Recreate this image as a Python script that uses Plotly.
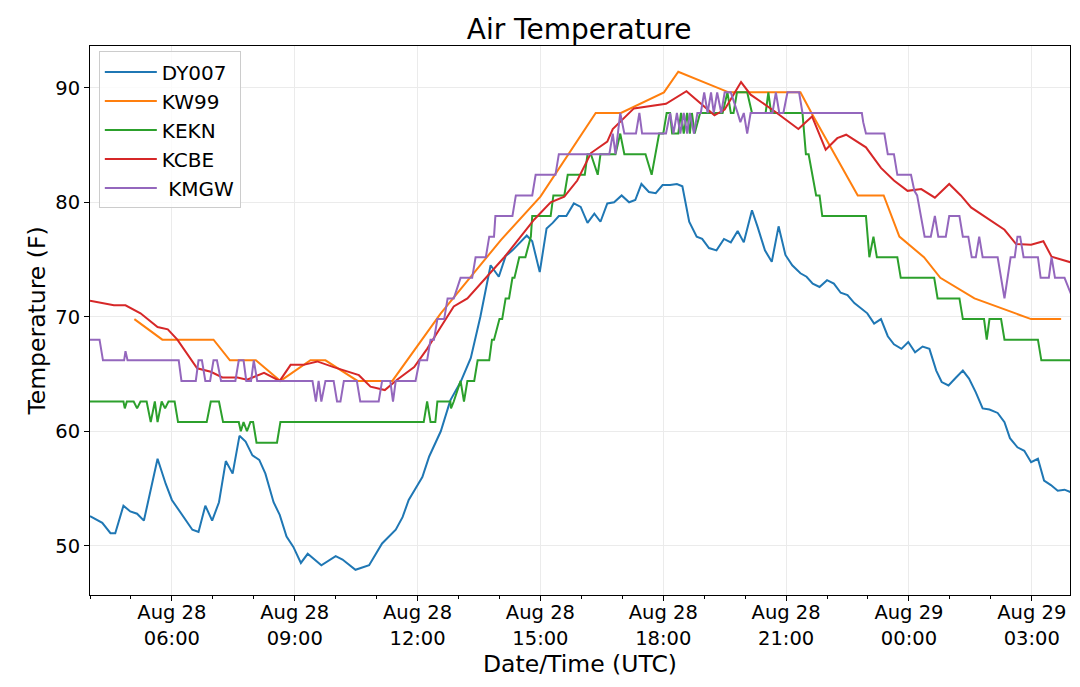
import pandas as pd
import plotly.graph_objects as go

# start of the plotted day; all times below are minutes after this
t0 = pd.Timestamp("2017-08-28 04:00")

# DY007
dy007_min = [0, 18, 30, 37, 49, 59, 69, 79, 99, 111,
             120, 150, 159, 169, 179, 189, 199, 209, 219, 228,
             238, 248, 257, 269, 278, 288, 298, 309, 319, 339,
             360, 370, 389, 409, 428, 438, 448, 458, 467, 477,
             487, 497, 514, 528, 543, 558, 565, 572, 587, 599,
             609, 619, 640, 648, 659, 669, 678, 687, 698, 709,
             719, 729, 739, 748, 758, 768, 779, 790, 799, 808,
             819, 829, 839, 850, 860, 868, 878, 889, 897, 907,
             918, 929, 939, 949, 958, 970, 978, 989, 999, 1009,
             1019, 1029, 1041, 1050, 1059, 1069, 1080, 1090, 1100, 1110,
             1120, 1130, 1139, 1149, 1159, 1169, 1178, 1189, 1199, 1209,
             1220, 1230, 1240, 1248, 1258, 1269, 1279, 1288, 1298, 1308,
             1318, 1330, 1340, 1348, 1359, 1369, 1379, 1389, 1398, 1408,
             1418, 1428, 1440]
dy007_f = [52.6, 52.0, 51.1, 51.1, 53.5, 53.0, 52.8, 52.2, 57.6, 55.4,
           54.0, 51.4, 51.2, 53.5, 52.2, 53.8, 57.4, 56.3, 59.6, 59.1,
           57.9, 57.5, 56.3, 53.8, 52.7, 50.8, 49.9, 48.5, 49.3, 48.3,
           49.1, 48.8, 47.9, 48.3, 50.2, 50.8, 51.4, 52.5, 54.0, 55.0,
           56.0, 57.8, 60.0, 62.7, 64.3, 66.4, 68.3, 70.0, 74.5, 73.5,
           75.3, 75.8, 77.1, 76.6, 73.9, 77.7, 78.2, 78.8, 78.8, 79.9,
           79.6, 78.2, 79.0, 78.3, 79.9, 80.0, 80.6, 80.0, 80.2, 81.6,
           80.9, 80.8, 81.5, 81.5, 81.6, 81.4, 78.3, 77.0, 76.8, 76.0,
           75.8, 76.8, 76.5, 77.5, 76.5, 79.3, 77.9, 75.8, 74.8, 77.9,
           75.4, 74.5, 73.8, 73.5, 72.9, 72.6, 73.2, 72.9, 72.1, 71.9,
           71.2, 70.7, 70.3, 69.4, 69.8, 68.3, 67.6, 67.2, 67.8, 66.9,
           67.4, 67.2, 65.3, 64.3, 64.0, 64.7, 65.3, 64.6, 63.4, 62.0,
           61.9, 61.6, 60.8, 59.4, 58.6, 58.3, 57.3, 57.6, 55.7, 55.3,
           54.8, 54.9, 54.6]

# KW99
kw99_min = [65, 106, 181, 205, 243, 279, 323, 345, 392, 443,
            514, 602, 660, 741, 778, 841, 862, 936, 1041, 1059,
            1125, 1163, 1186, 1222, 1246, 1296, 1379, 1423]
kw99_f = [69.8, 68.0, 68.0, 66.2, 66.2, 64.4, 66.2, 66.2, 64.4, 64.4,
          70.3, 76.7, 80.5, 87.8, 87.8, 89.6, 91.4, 89.6, 89.6, 87.6,
          80.6, 80.6, 77.0, 75.2, 73.4, 71.6, 69.8, 69.8]

# KEKN
kekn_min = [0, 49, 51, 54, 64, 69, 74, 83, 89, 95,
            99, 105, 110, 115, 124, 129, 171, 177, 189, 195,
            218, 221, 225, 230, 235, 239, 244, 274, 279, 489,
            494, 499, 506, 509, 528, 529, 533, 543, 548, 553,
            563, 568, 585, 589, 592, 600, 604, 609, 614, 619,
            622, 629, 638, 646, 648, 675, 679, 695, 700, 725,
            729, 734, 744, 748, 770, 777, 783, 814, 823, 834,
            840, 845, 850, 853, 862, 866, 870, 875, 879, 882,
            886, 894, 927, 934, 939, 943, 948, 963, 970, 990,
            994, 998, 1044, 1049, 1053, 1064, 1069, 1073, 1137, 1142,
            1148, 1153, 1183, 1188, 1237, 1242, 1274, 1279, 1310, 1314,
            1318, 1335, 1340, 1389, 1394, 1440]
kekn_f = [62.6, 62.6, 62.0, 62.6, 62.6, 62.0, 62.6, 62.6, 60.8, 62.6,
          60.8, 62.6, 62.0, 62.6, 62.6, 60.8, 60.8, 62.6, 62.6, 60.8,
          60.8, 60.0, 60.8, 60.0, 60.8, 60.8, 59.0, 59.0, 60.8, 60.8,
          62.6, 60.8, 60.8, 62.6, 62.6, 62.0, 62.6, 64.4, 62.6, 64.4,
          64.4, 66.2, 66.2, 68.0, 68.0, 69.8, 69.8, 71.6, 71.6, 73.4,
          73.4, 75.2, 75.2, 77.0, 78.8, 78.8, 80.6, 80.6, 82.4, 82.4,
          84.2, 84.2, 82.4, 84.2, 84.2, 86.0, 84.2, 84.2, 82.4, 86.0,
          86.0, 87.8, 87.8, 86.0, 86.0, 87.8, 86.0, 87.8, 86.0, 87.8,
          86.0, 87.8, 87.8, 89.6, 87.8, 87.8, 89.6, 89.6, 87.8, 87.8,
          89.6, 87.8, 87.8, 84.2, 84.2, 80.6, 80.6, 78.8, 78.8, 75.2,
          77.0, 75.2, 75.2, 73.4, 73.4, 71.6, 71.6, 69.8, 69.8, 68.0,
          69.8, 69.8, 68.0, 68.0, 66.2, 66.2]

# KCBE
kcbe_min = [0, 35, 52, 74, 99, 114, 128, 157, 177, 194,
            216, 230, 255, 278, 294, 313, 333, 357, 394, 411,
            432, 450, 475, 494, 514, 533, 553, 607, 651, 675,
            695, 714, 734, 758, 766, 797, 844, 874, 915, 930,
            954, 968, 1002, 1038, 1058, 1078, 1095, 1108, 1137, 1159,
            1178, 1198, 1218, 1238, 1259, 1276, 1291, 1315, 1340, 1357,
            1379, 1397, 1409, 1440]
kcbe_f = [71.4, 71.0, 71.0, 70.3, 69.1, 68.9, 68.0, 65.5, 65.2, 64.7,
          64.7, 64.5, 65.1, 64.4, 65.8, 65.8, 66.1, 65.6, 64.9, 63.9,
          63.6, 64.5, 65.6, 67.2, 69.1, 70.9, 71.6, 75.2, 78.5, 80.0,
          80.5, 81.9, 84.3, 85.3, 86.4, 88.2, 88.6, 89.7, 87.6, 88.1,
          90.5, 89.4, 88.0, 86.4, 87.5, 84.6, 85.6, 85.9, 84.8, 83.0,
          81.9, 81.0, 81.15, 80.4, 81.6, 80.6, 79.55, 78.6, 77.6, 76.35,
          76.3, 76.6, 75.25, 74.7]

# KMGW
kmgw_min = [0, 14, 19, 50, 52, 55, 130, 134, 155, 159,
            164, 169, 176, 181, 186, 192, 213, 218, 225, 229,
            236, 240, 245, 326, 331, 335, 339, 345, 357, 362,
            367, 372, 391, 396, 423, 428, 440, 444, 448, 477,
            483, 494, 499, 504, 509, 519, 524, 533, 543, 560,
            565, 580, 585, 592, 594, 619, 624, 648, 653, 682,
            687, 761, 766, 770, 777, 783, 800, 805, 809, 844,
            850, 855, 860, 865, 870, 875, 879, 885, 890, 895,
            900, 905, 910, 914, 919, 925, 930, 939, 949, 953,
            958, 963, 968, 1000, 1005, 1010, 1016, 1022, 1039, 1044,
            1131, 1133, 1137, 1164, 1169, 1178, 1183, 1203, 1208, 1212,
            1223, 1232, 1238, 1243, 1254, 1259, 1274, 1279, 1287, 1292,
            1298, 1303, 1308, 1330, 1340, 1349, 1355, 1359, 1363, 1368,
            1389, 1393, 1405, 1409, 1414, 1428, 1440]
kmgw_f = [68.0, 68.0, 66.2, 66.2, 67.0, 66.2, 66.2, 64.4, 64.4, 66.2,
          66.2, 64.4, 64.4, 66.2, 66.2, 64.4, 64.4, 66.2, 66.2, 64.4,
          64.4, 66.2, 64.4, 64.4, 62.6, 64.4, 62.6, 64.4, 64.4, 62.6,
          62.6, 64.4, 64.4, 62.6, 62.6, 64.4, 64.4, 62.6, 64.4, 64.4,
          66.2, 66.2, 68.0, 68.0, 69.8, 69.8, 71.6, 71.6, 73.4, 73.4,
          75.2, 75.2, 77.0, 77.0, 78.8, 78.8, 80.6, 80.6, 82.4, 82.4,
          84.2, 84.2, 86.0, 84.2, 87.8, 86.0, 86.0, 87.8, 86.0, 86.0,
          87.8, 86.0, 87.8, 86.0, 87.8, 86.0, 87.8, 86.0, 87.8, 87.8,
          89.6, 87.8, 89.6, 87.8, 89.6, 87.8, 89.6, 89.6, 87.8, 87.0,
          87.8, 86.0, 87.8, 87.8, 89.6, 87.8, 87.8, 89.6, 89.6, 87.8,
          87.8, 87.0, 86.0, 86.0, 84.2, 84.2, 82.4, 82.4, 81.0, 80.6,
          77.0, 77.0, 78.8, 77.0, 77.0, 78.8, 78.8, 77.0, 77.0, 75.2,
          75.2, 77.0, 75.2, 75.2, 71.6, 75.2, 75.2, 77.0, 77.0, 75.2,
          75.2, 73.4, 73.4, 75.2, 73.4, 73.4, 71.6]

stations = [
    ("DY007", dy007_min, dy007_f, "#1f77b4"),
    ("KW99", kw99_min, kw99_f, "#ff7f0e"),
    ("KEKN", kekn_min, kekn_f, "#2ca02c"),
    ("KCBE", kcbe_min, kcbe_f, "#d62728"),
    (" KMGW", kmgw_min, kmgw_f, "#9467bd"),
]

font = "DejaVu Sans"

fig = go.Figure()
for name, mins, vals, color in stations:
    times = t0 + pd.to_timedelta(mins, unit="min")
    fig.add_trace(go.Scatter(x=times, y=vals, mode="lines", name=name,
                             legendgroup=name,
                             line=dict(color=color, width=2)))

fig.update_layout(
    width=1080, height=687,
    margin=dict(l=90, r=10, t=46, b=92),
    paper_bgcolor="white", plot_bgcolor="white",
    font=dict(family=font, size=19.5, color="black"),
    title=dict(text="Air Temperature", x=0.5362, xanchor="center",
               y=0.958, yanchor="middle", font=dict(size=28)),
    showlegend=True,
    legend=dict(x=0.009, y=0.99, xanchor="left", yanchor="top",
                bgcolor="rgba(255,255,255,0.8)", bordercolor="#cccccc",
                borderwidth=1, font=dict(size=20), tracegroupgap=7,
                itemwidth=52, traceorder="normal"),
)

fig.update_xaxes(
    range=[t0, t0 + pd.Timedelta(minutes=1436)],
    tick0="2017-08-28 00:00", dtick=3 * 3600 * 1000,
    tickformat="%b %d<br>%H:%M",
    ticks="outside", ticklen=5, tickcolor="black",
    ticklabelstandoff=-5,
    minor=dict(dtick=3600 * 1000, ticks="outside", ticklen=3,
               tickcolor="black", showgrid=False),
    showgrid=True, gridcolor="#ebebeb", gridwidth=1,
    showline=True, linecolor="black", linewidth=1, mirror=True,
    zeroline=False, automargin=False,
    title=dict(text="Date/Time (UTC)", font=dict(size=23.5), standoff=4),
)
fig.update_yaxes(
    range=[45.7, 93.65], dtick=10,
    ticks="outside", ticklen=5, tickcolor="black",
    showgrid=True, gridcolor="#ebebeb", gridwidth=1,
    showline=True, linecolor="black", linewidth=1, mirror=True,
    zeroline=False, automargin=False,
    title=dict(text="Temperature (F)", font=dict(size=23.5), standoff=3),
)

# drop the browser's default page margin so the figure sits at 0,0
fig.write_html("out.html", config={"displayModeBar": False},
               post_script="document.body.style.margin='0px';")
